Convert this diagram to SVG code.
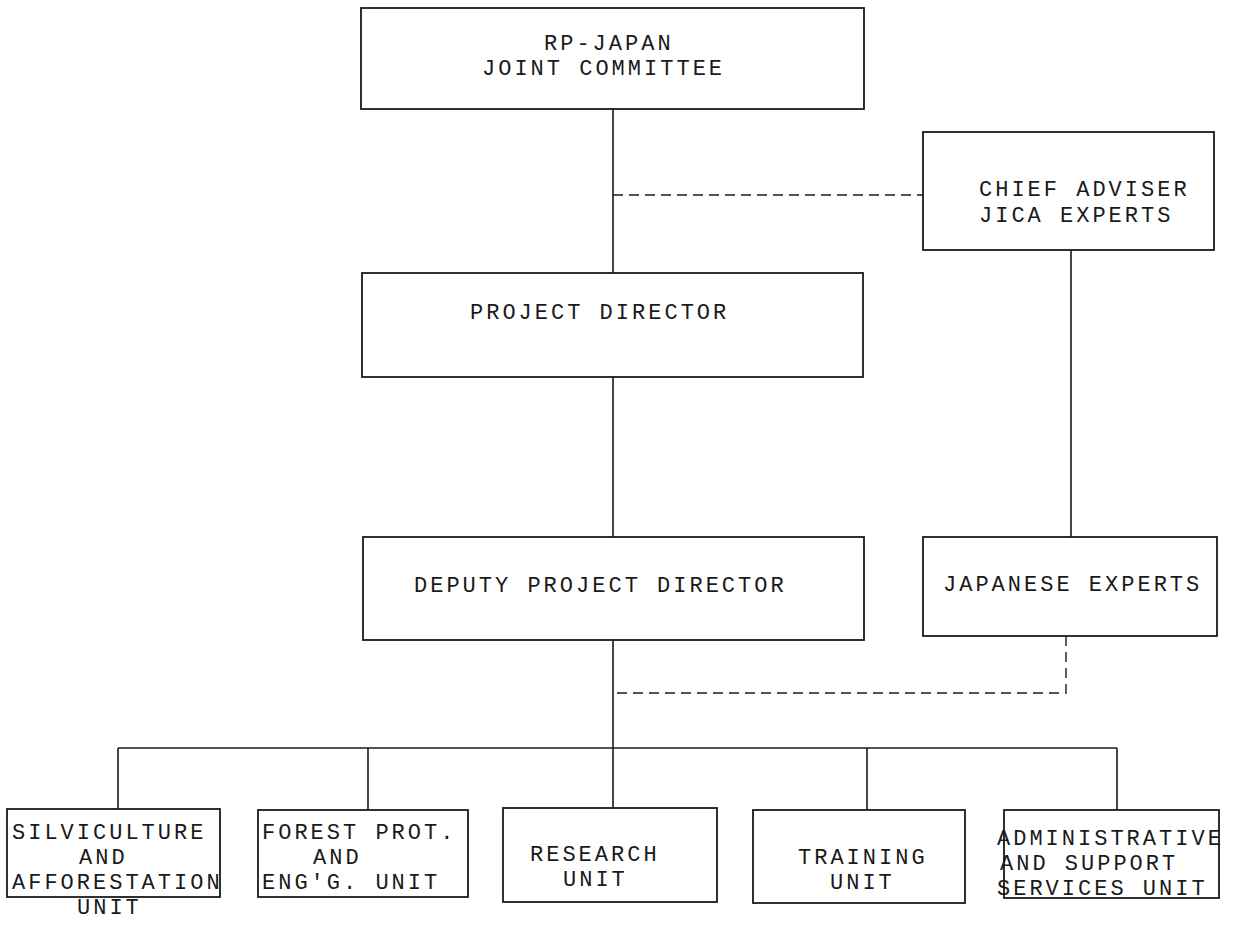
<svg xmlns="http://www.w3.org/2000/svg" width="1252" height="928" viewBox="0 0 1252 928">
<style>
.box{fill:none;stroke:#1a1a1a;stroke-width:1.8}
.ln{fill:none;stroke:#1a1a1a;stroke-width:1.6}
.dash{fill:none;stroke:#1a1a1a;stroke-width:1.4;stroke-dasharray:10 6}
.t{font-family:"Liberation Mono","DejaVu Sans Mono",monospace;font-size:22px;letter-spacing:3px;fill:#1a1a1a}
.s{font-family:"Liberation Mono","DejaVu Sans Mono",monospace;font-size:22px;letter-spacing:3px;fill:#1a1a1a}
</style>
<rect width="1252" height="928" fill="#fff"/>
<g id="connectors">
<line class="ln" x1="613" y1="108" x2="613" y2="273"/>
<line class="dash" x1="613" y1="195" x2="923" y2="195"/>
<line class="ln" x1="1071" y1="250" x2="1071" y2="537"/>
<line class="ln" x1="613" y1="377" x2="613" y2="537"/>
<polyline class="dash" points="1066,636 1066,693 613,693"/>
<line class="ln" x1="613" y1="640" x2="613" y2="748"/>
<line class="ln" x1="118" y1="748" x2="1117" y2="748"/>
<line class="ln" x1="118" y1="748" x2="118" y2="809"/>
<line class="ln" x1="368" y1="748" x2="368" y2="810"/>
<line class="ln" x1="613" y1="748" x2="613" y2="808"/>
<line class="ln" x1="867" y1="748" x2="867" y2="810"/>
<line class="ln" x1="1117" y1="748" x2="1117" y2="810"/>
</g>
<g id="joint-committee">
<rect class="box" x="361" y="8" width="503" height="101"/>
<text class="t" x="544" y="50">RP-JAPAN</text>
<text class="t" x="482" y="75">JOINT COMMITTEE</text>
</g>
<g id="chief-adviser">
<rect class="box" x="923" y="132" width="291" height="118"/>
<text class="t" x="979" y="196">CHIEF ADVISER</text>
<text class="t" x="979" y="222">JICA EXPERTS</text>
</g>
<g id="project-director">
<rect class="box" x="362" y="273" width="501" height="104"/>
<text class="t" x="470" y="319">PROJECT DIRECTOR</text>
</g>
<g id="deputy-project-director">
<rect class="box" x="363" y="537" width="501" height="103"/>
<text class="t" x="414" y="592">DEPUTY PROJECT DIRECTOR</text>
</g>
<g id="japanese-experts">
<rect class="box" x="923" y="537" width="294" height="99"/>
<text class="t" x="943" y="591">JAPANESE EXPERTS</text>
</g>
<g id="silviculture">
<rect class="box" x="7" y="809" width="213" height="88"/>
<text class="s" x="12" y="839">SILVICULTURE</text>
<text class="s" x="79" y="864">AND</text>
<text class="s" x="12" y="889">AFFORESTATION</text>
<text class="s" x="77" y="914">UNIT</text>
</g>
<g id="forest-prot">
<rect class="box" x="258" y="810" width="210" height="87"/>
<text class="s" x="262" y="839">FOREST PROT.</text>
<text class="s" x="313" y="864">AND</text>
<text class="s" x="262" y="889">ENG'G. UNIT</text>
</g>
<g id="research">
<rect class="box" x="503" y="808" width="214" height="94"/>
<text class="s" x="530" y="861">RESEARCH</text>
<text class="s" x="563" y="886">UNIT</text>
</g>
<g id="training">
<rect class="box" x="753" y="810" width="212" height="93"/>
<text class="s" x="798" y="864">TRAINING</text>
<text class="s" x="830" y="889">UNIT</text>
</g>
<g id="administrative">
<rect class="box" x="1004" y="810" width="215" height="88"/>
<text class="s" x="997" y="845">ADMINISTRATIVE</text>
<text class="s" x="1000" y="870">AND SUPPORT</text>
<text class="s" x="997" y="895">SERVICES UNIT</text>
</g>
</svg>
